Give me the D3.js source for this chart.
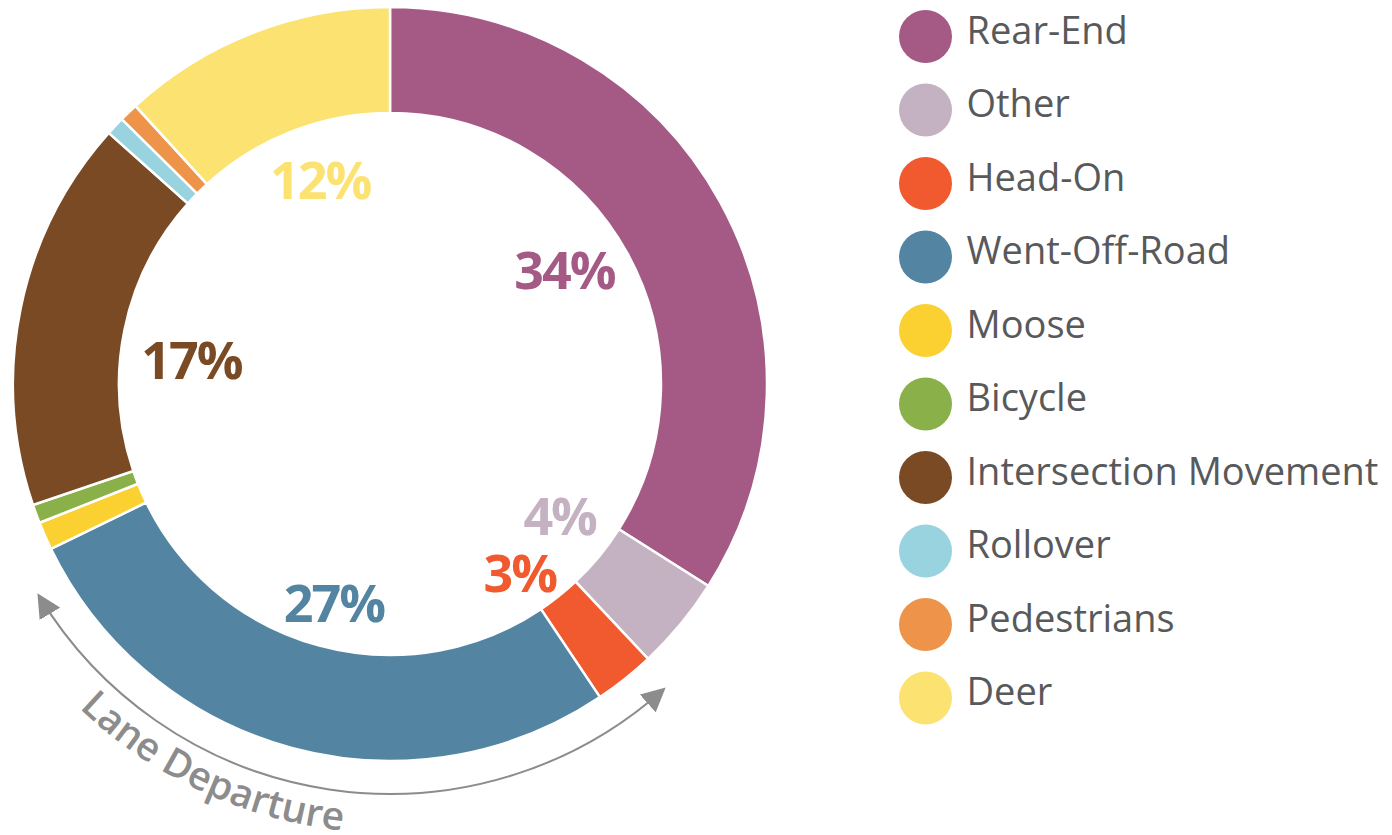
<!DOCTYPE html>
<html>
<head>
<meta charset="utf-8">
<script src="https://cdn.jsdelivr.net/npm/d3@7"></script>
<style>
  html, body { margin: 0; padding: 0; background: #fff; }
  svg { display: block; }
</style>
</head>
<body>
<svg id="chart" width="1392" height="835"></svg>
<script>
// ---- data ----
const categories = ["Rear-End", "Other", "Head-On", "Went-Off-Road", "Moose", "Bicycle",
                    "Intersection Movement", "Rollover", "Pedestrians", "Deer"];
const values = [34, 4, 2.6, 27.2, 1.2, 0.8, 16.8, 0.8, 0.8, 11.8];
const labels = ["34%", "4%", "3%", "27%", "", "", "17%", "", "", "12%"];
const colors = ["#A55A86", "#C4B1C1", "#F05A2E", "#5385A2", "#FBD132", "#8AB04A",
                "#7A4A24", "#99D3DF", "#ED944A", "#FCE270"];
const laneDepartureLabel = "Lane Departure";

// ---- layout ----
const svg = d3.select("#chart");
const cx = 390, cy = 384;
const outerR = 377, innerR = 271;

const data = categories.map((c, i) => ({ name: c, value: values[i], label: labels[i], color: colors[i] }));

const pie = d3.pie().sort(null).value(d => d.value).startAngle(0).endAngle(2 * Math.PI);
const arcs = pie(data);
const arc = d3.arc().innerRadius(innerR).outerRadius(outerR);

const g = svg.append("g").attr("transform", `translate(${cx},${cy})`);

g.selectAll("path.slice")
  .data(arcs)
  .join("path")
  .attr("class", "slice")
  .attr("d", arc)
  .attr("fill", d => d.data.color)
  .attr("stroke", "#fff")
  .attr("stroke-width", 2.5);

// percentage labels inside the hole
const labelArc = d3.arc().innerRadius(215).outerRadius(215);
const labelNudge = { "Rear-End": [-14, -10], "Other": [4, -5], "Head-On": [-4, 21],
                     "Went-Off-Road": [0, 12], "Intersection Movement": [12, 19], "Deer": [8, -3] };
g.selectAll("text.pct")
  .data(arcs.filter(d => d.data.label))
  .join("text")
  .attr("class", "pct")
  .attr("transform", d => {
    const [x, y] = labelArc.centroid(d);
    const n = labelNudge[d.data.name] || [0, 0];
    return `translate(${x + n[0]},${y + n[1]})`;
  })
  .attr("text-anchor", "middle")
  .attr("dy", "0.36em")
  .attr("font-family", "'Open Sans', sans-serif")
  .attr("font-weight", 700)
  .attr("font-size", 52)
  .attr("letter-spacing", -2)
  .attr("fill", d => d.data.color)
  .text(d => d.data.label);

// ---- Lane Departure arrow arc ----
const laneStart = arcs[3].startAngle - 0.135; // just before Went-Off-Road
const laneEnd = arcs[3].endAngle - 0.095;
const arrowR = 410;
const defs = svg.append("defs");
defs.append("marker")
  .attr("id", "arrowhead")
  .attr("viewBox", "0 0 10 10")
  .attr("refX", 8).attr("refY", 5)
  .attr("markerWidth", 24).attr("markerHeight", 24)
  .attr("markerUnits", "userSpaceOnUse")
  .attr("orient", "auto-start-reverse")
  .append("path")
  .attr("d", "M0,0 L10,5 L0,10 Z")
  .attr("fill", "#8C8C8C");

const pt = (a, r) => [Math.sin(a) * r, -Math.cos(a) * r];
const p0 = pt(laneStart, arrowR), p1 = pt(laneEnd, arrowR);
g.append("path")
  .attr("d", `M${p0[0]},${p0[1]} A${arrowR},${arrowR} 0 0 1 ${p1[0]},${p1[1]}`)
  .attr("fill", "none")
  .attr("stroke", "#8C8C8C")
  .attr("stroke-width", 2)
  .attr("marker-start", "url(#arrowhead)")
  .attr("marker-end", "url(#arrowhead)");

// text along the arc
const textR = 449;
const t0 = pt(223.8 * Math.PI / 180, textR), t1 = pt(150 * Math.PI / 180, textR);
defs.append("path")
  .attr("id", "lanePath")
  .attr("d", `M${t0[0]},${t0[1]} A${textR},${textR} 0 0 0 ${t1[0]},${t1[1]}`);
g.append("text")
  .attr("font-family", "'Open Sans', sans-serif")
  .attr("font-weight", 600)
  .attr("font-size", 39)
  .attr("fill", "#8C8C8C")
  .append("textPath")
  .attr("href", "#lanePath")
  .attr("startOffset", 0)
  .text(laneDepartureLabel);

// ---- legend ----
const legend = svg.append("g").attr("transform", "translate(925.5,36.5)");
const item = legend.selectAll("g.item")
  .data(data)
  .join("g")
  .attr("class", "item")
  .attr("transform", (d, i) => `translate(0,${i * 73.5})`);
item.append("circle").attr("r", 26.5).attr("fill", d => d.color);
item.append("text")
  .attr("x", 41)
  .attr("y", 7)
  .attr("font-family", "'Open Sans', sans-serif")
  .attr("font-size", 38)
  .attr("fill", "#58595B")
  .text(d => d.name);
</script>
</body>
</html>
